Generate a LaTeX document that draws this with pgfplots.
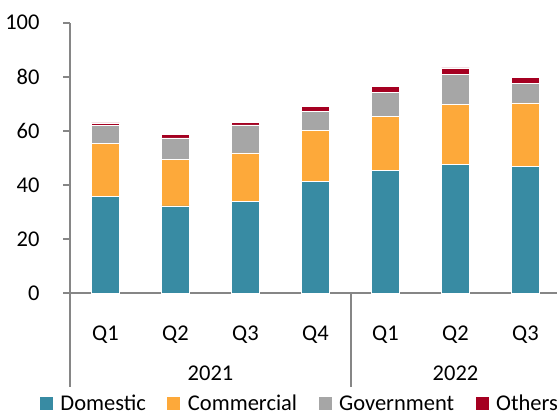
\documentclass[border=0pt]{standalone}
\usepackage{fontspec}
\setmainfont{Carlito}
\usepackage{pgfplots}
\pgfplotsset{compat=1.18}
\definecolor{cDom}{HTML}{388BA3}
\definecolor{cCom}{HTML}{FDA93A}
\definecolor{cGov}{HTML}{A6A6A6}
\definecolor{cOth}{HTML}{A50021}
\definecolor{axgray}{HTML}{868686}
\newcommand{\fs}{\fontsize{22.5}{27}\selectfont}
\begin{document}
\begin{tikzpicture}
\begin{axis}[
  scale only axis,
  width=490pt, height=270.6pt,
  xmin=-0.5, xmax=6.5, ymin=0, ymax=100,
  clip=false,
  ybar stacked, bar width=27.7pt,
  axis x line*=bottom, axis y line*=left,
  axis line style={axgray, line width=2pt, -},
  ytick={0,20,40,60,80,100},
  tick align=outside,
  major tick length=7pt,
  ytick style={axgray, line width=1.8pt},
  xtick=data,
  xticklabels={Q1,Q2,Q3,Q4,Q1,Q2,Q3},
  xtick style={draw=none},
  /pgf/number format/assume math mode=true,
  yticklabel style={font=\fs, anchor=east, inner sep=0pt, xshift=-23.8pt},
  xticklabel style={font=\fs, anchor=base, inner sep=0pt, yshift=-40pt},
  legend columns=4,
  legend style={draw=none, fill=none, font=\fs, inner sep=0pt, outer sep=0pt,
    at={(axis description cs:0,0)}, anchor=west, xshift=-30.5pt, yshift=-110.5pt,
    /tikz/every even column/.append style={column sep=14pt},
    nodes={inner sep=7.5pt}},
  legend image code/.code={\fill[#1,draw=none] (0pt,-6.5pt) rectangle (13pt,6.5pt);},
  every axis plot/.append style={draw=white, line width=0.6pt},
]
\addplot[fill=cDom] coordinates {(0,35.8) (1,32.3) (2,33.9) (3,41.3) (4,45.4) (5,47.7) (6,46.9)};
\addplot[fill=cCom] coordinates {(0,19.6) (1,17.3) (2,18.0) (3,18.8) (4,19.9) (5,22.0) (6,23.5)};
\addplot[fill=cGov] coordinates {(0,6.6) (1,7.8) (2,10.3) (3,7.2) (4,8.8) (5,11.2) (6,7.2)};
\addplot[fill=cOth] coordinates {(0,1.0) (1,1.2) (2,1.1) (3,1.7) (4,2.3) (5,2.4) (6,2.1)};
\legend{Domestic,Commercial,Government,Others}
\coordinate (O) at (axis cs:-0.5,0);
\draw[axgray, line width=2pt] (axis cs:-0.5,0) -- ([yshift=-93.4pt]axis cs:-0.5,0);
\draw[axgray, line width=2pt] (axis cs:3.5,0) -- ([yshift=-93.4pt]axis cs:3.5,0);
\node[font=\fs, anchor=base, inner sep=0pt] at ([yshift=-86.7pt]axis cs:1.5,0) {2021};
\node[font=\fs, anchor=base, inner sep=0pt] at ([yshift=-86.7pt]axis cs:5,0) {2022};
\end{axis}
\pgfresetboundingbox
\path[use as bounding box] ([shift={(-70.5pt,-120pt)}]O) rectangle ([shift={(486.5pt,293.3pt)}]O);
\end{tikzpicture}
\end{document}
